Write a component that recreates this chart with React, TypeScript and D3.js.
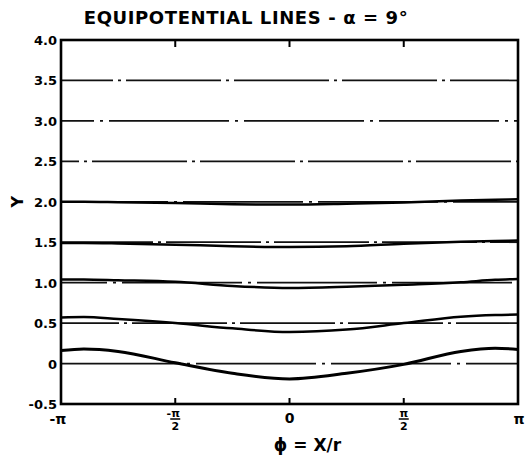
import React, { useEffect, useRef } from 'react'
import * as d3 from 'd3'

const PI = Math.PI

// phi samples, in multiples of pi
const phiSamples = [-1, -0.9, -0.75, -0.5, -0.25, 0, 0.25, 0.5, 0.75, 0.9, 1]

// equipotential curves
const curve00 = [0.16, 0.18, 0.15, 0.01, -0.12, -0.19, -0.12, -0.01, 0.15, 0.19, 0.175]
const curve05 = [0.57, 0.575, 0.55, 0.5, 0.435, 0.39, 0.42, 0.5, 0.58, 0.6, 0.605]
const curve10 = [1.04, 1.04, 1.03, 1.01, 0.96, 0.935, 0.95, 0.975, 1.005, 1.035, 1.045]
const curve15 = [1.49, 1.49, 1.485, 1.47, 1.45, 1.44, 1.45, 1.48, 1.505, 1.515, 1.52]
const curve20 = [2.0, 2.0, 1.995, 1.985, 1.97, 1.965, 1.975, 1.99, 2.015, 2.025, 2.03]

// dash-dot reference levels
const refLevels = [0, 0.5, 1.0, 1.5, 2.0, 2.5, 3.0, 3.5]

const yTicks = [-0.5, 0, 0.5, 1.0, 1.5, 2.0, 2.5, 3.0, 3.5, 4.0]
const yTickLabels = ['-0.5', '0', '0.5', '1.0', '1.5', '2.0', '2.5', '3.0', '3.5', '4.0']
const xTicks = [-PI, -PI / 2, 0, PI / 2, PI]

export default function App() {
    const ref = useRef<SVGSVGElement>(null)

    useEffect(() => {
        document.body.style.margin = '0'
        let svg = d3.select(ref.current)
        svg.selectAll('*').remove()

        let margin = { top: 40, right: 10, bottom: 51, left: 61 }
        let width = 528
        let height = 455

        let x = d3.scaleLinear()
            .domain([-PI, PI])
            .range([margin.left, width - margin.right])

        let y = d3.scaleLinear()
            .domain([-0.5, 4])
            .range([height - margin.bottom, margin.top])

        let font = "'DejaVu Sans', sans-serif"

        // reference chain lines
        svg.append('g')
            .selectAll('line')
            .data(refLevels)
            .join('line')
            .attr('x1', x(-PI))
            .attr('x2', x(PI))
            .attr('y1', d => y(d))
            .attr('y2', d => y(d))
            .attr('stroke', '#111')
            .attr('stroke-width', 1.7)
            .attr('stroke-dasharray', (d, i) => i % 2 ? '95 5 3 5' : '120 6 3 6')
            .attr('stroke-dashoffset', (d, i) => i * 37)

        // equipotential curves
        let curves = [curve00, curve05, curve10, curve15, curve20]
        let line = d3.line<number>()
            .x((d, i) => x(phiSamples[i] * PI))
            .y(d => y(d))
            .curve(d3.curveMonotoneX)

        svg.append('g')
            .selectAll('path')
            .data(curves)
            .join('path')
            .attr('d', d => line(d))
            .attr('fill', 'none')
            .attr('stroke', '#000')
            .attr('stroke-width', (d, i) => i === 0 ? 3 : 2.5)

        // frame
        svg.append('rect')
            .attr('x', x(-PI))
            .attr('y', y(4))
            .attr('width', x(PI) - x(-PI))
            .attr('height', y(-0.5) - y(4))
            .attr('fill', 'none')
            .attr('stroke', '#000')
            .attr('stroke-width', 2.6)

        // inner ticks on top and bottom
        let inner = xTicks.slice(1, 4)
        svg.append('g')
            .selectAll('line')
            .data(inner)
            .join('line')
            .attr('x1', d => x(d))
            .attr('x2', d => x(d))
            .attr('y1', y(4))
            .attr('y2', y(4) + 7)
            .attr('stroke', '#000')
            .attr('stroke-width', 2)
        svg.append('g')
            .selectAll('line')
            .data(inner)
            .join('line')
            .attr('x1', d => x(d))
            .attr('x2', d => x(d))
            .attr('y1', y(-0.5))
            .attr('y2', y(-0.5) - 6)
            .attr('stroke', '#000')
            .attr('stroke-width', 2)

        // y tick labels
        svg.append('g')
            .selectAll('text')
            .data(yTicks)
            .join('text')
            .attr('x', margin.left - 4)
            .attr('y', d => y(d) + 5)
            .attr('text-anchor', 'end')
            .attr('font-family', font)
            .attr('font-weight', 'bold')
            .attr('font-size', 13)
            .text((d, i) => yTickLabels[i])

        // x tick labels
        let xl = svg.append('g')
            .attr('font-family', font)
            .attr('font-weight', 'bold')
            .attr('text-anchor', 'middle')
        xl.append('text').attr('x', x(-PI) - 3).attr('y', y(-0.5) + 20).attr('font-size', 14).text('-π')
        xl.append('text').attr('x', x(0)).attr('y', y(-0.5) + 19).attr('font-size', 14).text('0')
        xl.append('text').attr('x', x(PI) + 1).attr('y', y(-0.5) + 20).attr('font-size', 14).text('π')
        let frac = [[-PI / 2, '-π'], [PI / 2, 'π']] as [number, string][]
        frac.forEach(([v, t]) => {
            xl.append('text').attr('x', x(v) - (v < 0 ? 2 : 0)).attr('y', y(-0.5) + 13).attr('font-size', 11).text(t)
            xl.append('line')
                .attr('x1', x(v) - 5).attr('x2', x(v) + 5)
                .attr('y1', y(-0.5) + 15).attr('y2', y(-0.5) + 15)
                .attr('stroke', '#000').attr('stroke-width', 1.5)
            xl.append('text').attr('x', x(v)).attr('y', y(-0.5) + 26).attr('font-size', 11).text('2')
        })

        // axis titles
        svg.append('text')
            .attr('x', x(0) + 18)
            .attr('y', 451)
            .attr('text-anchor', 'middle')
            .attr('font-family', font)
            .attr('font-weight', 'bold')
            .attr('font-size', 17)
            .text('ϕ = X/r')

        svg.append('text')
            .attr('transform', `translate(29,${y(2)}) rotate(-90)`)
            .attr('text-anchor', 'middle')
            .attr('font-family', font)
            .attr('font-weight', 'bold')
            .attr('font-size', 16)
            .attr('x', 0)
            .attr('y', -6)
            .text('Y')

        svg.append('text')
            .attr('x', 246)
            .attr('y', 24)
            .attr('text-anchor', 'middle')
            .attr('font-family', font)
            .attr('font-weight', 'bold')
            .attr('font-size', 18)
            .attr('letter-spacing', 0.6)
            .text('EQUIPOTENTIAL LINES - α = 9°')
    })

    return (
        <svg ref={ref} width={528} height={455} style={{ display: 'block', background: '#fff' }}></svg>
    )
}
